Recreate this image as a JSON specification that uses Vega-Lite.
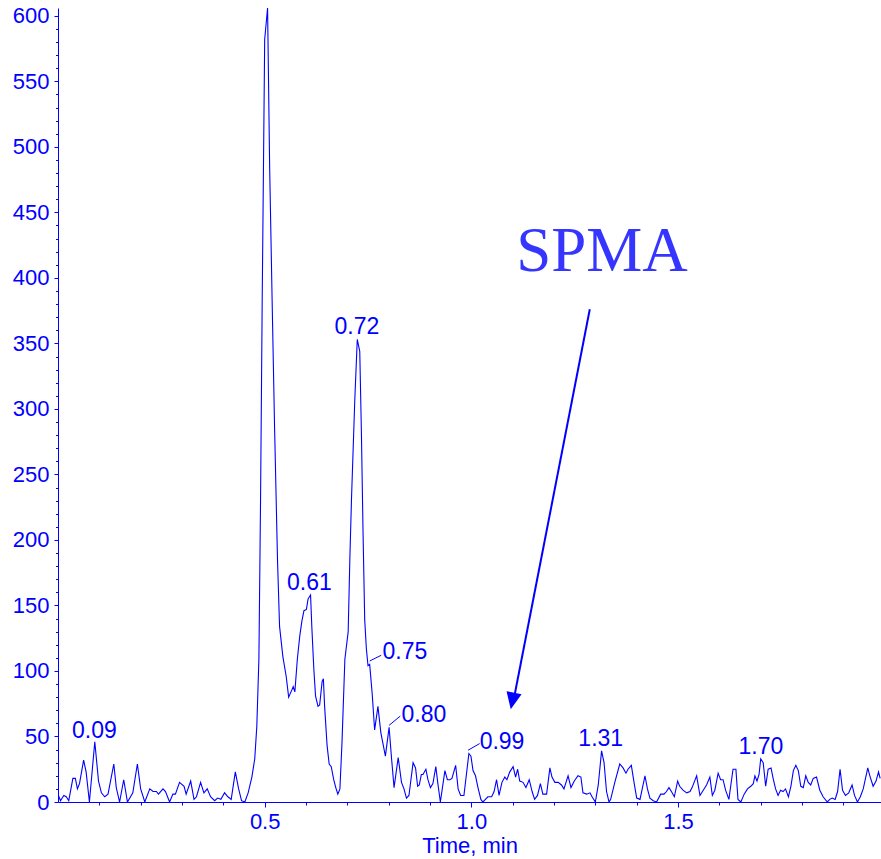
{
  "$schema": "https://vega.github.io/schema/vega-lite/v6.json",
  "width": 823,
  "height": 794,
  "autosize": "none",
  "padding": {"left": 58, "top": 8, "right": 0, "bottom": 57},
  "background": "white",
  "config": {"view": {"stroke": null}},
  "datasets": {
    "trace": [
      {"t":0.000,"v":6},{"t":0.006,"v":1},{"t":0.014,"v":5},{"t":0.020,"v":4},{"t":0.026,"v":1},{"t":0.036,"v":18},{"t":0.042,"v":18},{"t":0.047,"v":10},{"t":0.052,"v":14},{"t":0.062,"v":32},{"t":0.068,"v":23},{"t":0.076,"v":0},{"t":0.089,"v":46},{"t":0.098,"v":16},{"t":0.105,"v":7},{"t":0.113,"v":4},{"t":0.121,"v":6},{"t":0.135,"v":29},{"t":0.141,"v":11},{"t":0.149,"v":0},{"t":0.159,"v":17},{"t":0.168,"v":0},{"t":0.181,"v":7},{"t":0.192,"v":29},{"t":0.200,"v":10},{"t":0.210,"v":0},{"t":0.222,"v":10},{"t":0.230,"v":8},{"t":0.238,"v":8},{"t":0.243,"v":6},{"t":0.254,"v":10},{"t":0.260,"v":8},{"t":0.270,"v":0},{"t":0.278,"v":6},{"t":0.284,"v":6},{"t":0.294,"v":15},{"t":0.305,"v":12},{"t":0.310,"v":6},{"t":0.321,"v":16},{"t":0.329,"v":2},{"t":0.335,"v":4},{"t":0.345,"v":15},{"t":0.353,"v":7},{"t":0.361,"v":10},{"t":0.369,"v":4},{"t":0.379,"v":1},{"t":0.386,"v":3},{"t":0.394,"v":2},{"t":0.403,"v":7},{"t":0.411,"v":4},{"t":0.419,"v":2},{"t":0.429,"v":23},{"t":0.437,"v":10},{"t":0.444,"v":1},{"t":0.452,"v":0},{"t":0.460,"v":7},{"t":0.469,"v":19},{"t":0.476,"v":33},{"t":0.481,"v":58},{"t":0.486,"v":109},{"t":0.490,"v":230},{"t":0.494,"v":383},{"t":0.500,"v":582},{"t":0.507,"v":606},{"t":0.512,"v":485},{"t":0.518,"v":383},{"t":0.524,"v":285},{"t":0.531,"v":185},{"t":0.536,"v":134},{"t":0.544,"v":111},{"t":0.552,"v":96},{"t":0.558,"v":80},{"t":0.565,"v":85},{"t":0.569,"v":88},{"t":0.573,"v":84},{"t":0.579,"v":109},{"t":0.585,"v":127},{"t":0.590,"v":138},{"t":0.595,"v":146},{"t":0.601,"v":147},{"t":0.605,"v":155},{"t":0.611,"v":158},{"t":0.614,"v":134},{"t":0.619,"v":101},{"t":0.623,"v":81},{"t":0.629,"v":73},{"t":0.633,"v":74},{"t":0.639,"v":92},{"t":0.642,"v":94},{"t":0.645,"v":73},{"t":0.651,"v":43},{"t":0.656,"v":29},{"t":0.661,"v":27},{"t":0.667,"v":17},{"t":0.672,"v":11},{"t":0.677,"v":6},{"t":0.682,"v":10},{"t":0.687,"v":45},{"t":0.694,"v":109},{"t":0.702,"v":130},{"t":0.706,"v":185},{"t":0.710,"v":231},{"t":0.718,"v":307},{"t":0.724,"v":353},{"t":0.730,"v":344},{"t":0.734,"v":282},{"t":0.738,"v":205},{"t":0.742,"v":139},{"t":0.746,"v":117},{"t":0.750,"v":104},{"t":0.754,"v":105},{"t":0.760,"v":83},{"t":0.766,"v":55},{"t":0.774,"v":73},{"t":0.781,"v":53},{"t":0.792,"v":35},{"t":0.801,"v":57},{"t":0.807,"v":33},{"t":0.813,"v":11},{"t":0.823,"v":34},{"t":0.831,"v":15},{"t":0.837,"v":10},{"t":0.843,"v":3},{"t":0.849,"v":5},{"t":0.859,"v":30},{"t":0.865,"v":26},{"t":0.870,"v":12},{"t":0.874,"v":13},{"t":0.879,"v":21},{"t":0.883,"v":21},{"t":0.890,"v":25},{"t":0.895,"v":17},{"t":0.901,"v":11},{"t":0.907,"v":14},{"t":0.914,"v":27},{"t":0.919,"v":14},{"t":0.925,"v":0},{"t":0.936,"v":24},{"t":0.942,"v":17},{"t":0.948,"v":17},{"t":0.953,"v":18},{"t":0.962,"v":28},{"t":0.968,"v":10},{"t":0.974,"v":5},{"t":0.982,"v":5},{"t":0.994,"v":37},{"t":0.999,"v":35},{"t":1.004,"v":24},{"t":1.010,"v":20},{"t":1.016,"v":11},{"t":1.023,"v":2},{"t":1.028,"v":0},{"t":1.034,"v":2},{"t":1.040,"v":4},{"t":1.049,"v":4},{"t":1.055,"v":8},{"t":1.061,"v":17},{"t":1.067,"v":5},{"t":1.074,"v":15},{"t":1.081,"v":19},{"t":1.086,"v":17},{"t":1.093,"v":23},{"t":1.101,"v":27},{"t":1.107,"v":19},{"t":1.112,"v":25},{"t":1.117,"v":16},{"t":1.125,"v":15},{"t":1.132,"v":11},{"t":1.140,"v":17},{"t":1.147,"v":8},{"t":1.153,"v":2},{"t":1.160,"v":5},{"t":1.167,"v":14},{"t":1.173,"v":6},{"t":1.182,"v":6},{"t":1.190,"v":26},{"t":1.195,"v":19},{"t":1.202,"v":15},{"t":1.210,"v":15},{"t":1.218,"v":13},{"t":1.224,"v":10},{"t":1.234,"v":20},{"t":1.241,"v":11},{"t":1.249,"v":16},{"t":1.258,"v":20},{"t":1.265,"v":19},{"t":1.270,"v":7},{"t":1.279,"v":6},{"t":1.287,"v":7},{"t":1.292,"v":4},{"t":1.300,"v":0},{"t":1.307,"v":13},{"t":1.315,"v":39},{"t":1.321,"v":30},{"t":1.327,"v":8},{"t":1.333,"v":0},{"t":1.337,"v":2},{"t":1.347,"v":15},{"t":1.359,"v":29},{"t":1.367,"v":26},{"t":1.374,"v":22},{"t":1.379,"v":25},{"t":1.387,"v":28},{"t":1.394,"v":14},{"t":1.400,"v":3},{"t":1.408,"v":2},{"t":1.414,"v":11},{"t":1.420,"v":20},{"t":1.426,"v":10},{"t":1.432,"v":3},{"t":1.440,"v":1},{"t":1.448,"v":0},{"t":1.458,"v":6},{"t":1.466,"v":6},{"t":1.472,"v":8},{"t":1.478,"v":11},{"t":1.484,"v":8},{"t":1.491,"v":4},{"t":1.499,"v":16},{"t":1.504,"v":12},{"t":1.512,"v":9},{"t":1.521,"v":7},{"t":1.529,"v":8},{"t":1.534,"v":11},{"t":1.545,"v":20},{"t":1.553,"v":5},{"t":1.561,"v":9},{"t":1.569,"v":13},{"t":1.577,"v":19},{"t":1.583,"v":5},{"t":1.589,"v":9},{"t":1.597,"v":22},{"t":1.603,"v":17},{"t":1.609,"v":17},{"t":1.615,"v":9},{"t":1.623,"v":2},{"t":1.633,"v":25},{"t":1.640,"v":25},{"t":1.645,"v":2},{"t":1.652,"v":0},{"t":1.660,"v":6},{"t":1.668,"v":10},{"t":1.676,"v":12},{"t":1.682,"v":14},{"t":1.686,"v":20},{"t":1.691,"v":16},{"t":1.696,"v":21},{"t":1.700,"v":33},{"t":1.706,"v":30},{"t":1.712,"v":12},{"t":1.718,"v":25},{"t":1.725,"v":26},{"t":1.730,"v":18},{"t":1.736,"v":10},{"t":1.742,"v":5},{"t":1.748,"v":9},{"t":1.754,"v":8},{"t":1.760,"v":10},{"t":1.767,"v":4},{"t":1.773,"v":12},{"t":1.779,"v":24},{"t":1.785,"v":28},{"t":1.791,"v":24},{"t":1.797,"v":12},{"t":1.803,"v":11},{"t":1.809,"v":20},{"t":1.815,"v":15},{"t":1.821,"v":13},{"t":1.827,"v":18},{"t":1.835,"v":19},{"t":1.843,"v":9},{"t":1.851,"v":4},{"t":1.861,"v":0},{"t":1.867,"v":2},{"t":1.873,"v":3},{"t":1.880,"v":2},{"t":1.886,"v":8},{"t":1.892,"v":25},{"t":1.898,"v":9},{"t":1.905,"v":5},{"t":1.913,"v":7},{"t":1.921,"v":13},{"t":1.927,"v":5},{"t":1.934,"v":0},{"t":1.941,"v":4},{"t":1.948,"v":10},{"t":1.959,"v":26},{"t":1.964,"v":20},{"t":1.972,"v":12},{"t":1.979,"v":16},{"t":1.985,"v":23},{"t":1.989,"v":18}
    ],
    "peakLabels": [
      {"t":0.088,"v":48.6,"label":"0.09","side":"center"},
      {"t":0.608,"v":161.8,"label":"0.61","side":"center"},
      {"t":0.723,"v":357,"label":"0.72","side":"center"},
      {"t":0.785,"v":109,"label":"0.75","side":"left"},
      {"t":0.831,"v":61,"label":"0.80","side":"left"},
      {"t":1.020,"v":40.2,"label":"0.99","side":"left"},
      {"t":1.313,"v":42.7,"label":"1.31","side":"center"},
      {"t":1.7005,"v":36.4,"label":"1.70","side":"center"}
    ],
    "leaders": [
      {"t":0.754,"v":107.6,"t2":0.782,"v2":112},
      {"t":0.801,"v":58.5,"t2":0.828,"v2":65.6},
      {"t":0.992,"v":39.5,"t2":1.020,"v2":44.6}
    ],
    "callout": [
      {"t":1.316,"v":405,"label":"SPMA"}
    ],
    "arrow": [
      {"t":1.2865,"v":376.1,"t2":1.105,"v2":82.2}
    ],
    "arrowHead": [
      {"t":1.0993,"v":77.1}
    ]
  },
  "encoding": {
    "x": {
      "field": "t",
      "type": "quantitative",
      "scale": {"domain": [0, 1.991], "nice": false, "zero": false},
      "axis": {
        "title": "Time, min",
        "values": [0.1,0.2,0.3,0.4,0.5,0.6,0.7,0.8,0.9,1,1.1,1.2,1.3,1.4,1.5,1.6,1.7,1.8,1.9],
        "format": ".1f",
        "labelExpr": "(datum.value === 0.5 || datum.value === 1 || datum.value === 1.5) ? datum.label : ''",
        "tickSize": {"condition": {"test": "datum.value === 0.5 || datum.value === 1 || datum.value === 1.5", "value": 5}, "value": 3},
        "labelOverlap": false,
        "grid": false,
        "domainColor": "#0000ff",
        "tickColor": "#0000ff",
        "labelColor": "#0000ff",
        "titleColor": "#0000ff",
        "labelFont": "Liberation Sans",
        "titleFont": "Liberation Sans",
        "labelFontSize": 22,
        "titleFontSize": 22,
        "titleFontWeight": "normal",
        "labelPadding": 4,
        "titlePadding": 3
      }
    },
    "y": {
      "field": "v",
      "type": "quantitative",
      "scale": {"domain": [0, 606], "nice": false},
      "axis": {
        "title": null,
        "values": [0,10,20,30,40,50,60,70,80,90,100,110,120,130,140,150,160,170,180,190,200,210,220,230,240,250,260,270,280,290,300,310,320,330,340,350,360,370,380,390,400,410,420,430,440,450,460,470,480,490,500,510,520,530,540,550,560,570,580,590,600],
        "labelExpr": "datum.value % 50 === 0 ? datum.label : ''",
        "tickSize": {"condition": {"test": "datum.value % 50 === 0", "value": 4}, "value": 2.5},
        "labelOverlap": false,
        "grid": false,
        "domainColor": "#0000ff",
        "tickColor": "#0000ff",
        "labelColor": "#0000ff",
        "labelFont": "Liberation Sans",
        "labelFontSize": 22,
        "labelPadding": 5
      }
    }
  },
  "layer": [
    {
      "data": {"name": "trace"},
      "mark": {"type": "line", "color": "#0000ff", "strokeWidth": 1.1, "clip": true}
    },
    {
      "data": {"name": "leaders"},
      "mark": {"type": "rule", "color": "#0000ff", "strokeWidth": 1},
      "encoding": {"x2": {"field": "t2"}, "y2": {"field": "v2"}}
    },
    {
      "data": {"name": "peakLabels"},
      "transform": [{"filter": "datum.side === 'center'"}],
      "mark": {"type": "text", "align": "center", "baseline": "alphabetic", "font": "Liberation Sans", "fontSize": 23, "color": "#0000ff"},
      "encoding": {"text": {"field": "label"}}
    },
    {
      "data": {"name": "peakLabels"},
      "transform": [{"filter": "datum.side === 'left'"}],
      "mark": {"type": "text", "align": "left", "baseline": "alphabetic", "font": "Liberation Sans", "fontSize": 23, "color": "#0000ff"},
      "encoding": {"text": {"field": "label"}}
    },
    {
      "data": {"name": "callout"},
      "mark": {"type": "text", "align": "center", "baseline": "alphabetic", "font": "Liberation Serif", "fontSize": 63, "color": "#3535ff"},
      "encoding": {"text": {"field": "label"}}
    },
    {
      "data": {"name": "arrow"},
      "mark": {"type": "rule", "color": "#0000ff", "strokeWidth": 2},
      "encoding": {"x2": {"field": "t2"}, "y2": {"field": "v2"}}
    },
    {
      "data": {"name": "arrowHead"},
      "mark": {"type": "point", "shape": "M0,1L-0.9,-1L0.9,-1Z", "size": 289, "angle": 11.2, "filled": true, "color": "#0000ff", "opacity": 1, "strokeWidth": 0}
    }
  ]
}
